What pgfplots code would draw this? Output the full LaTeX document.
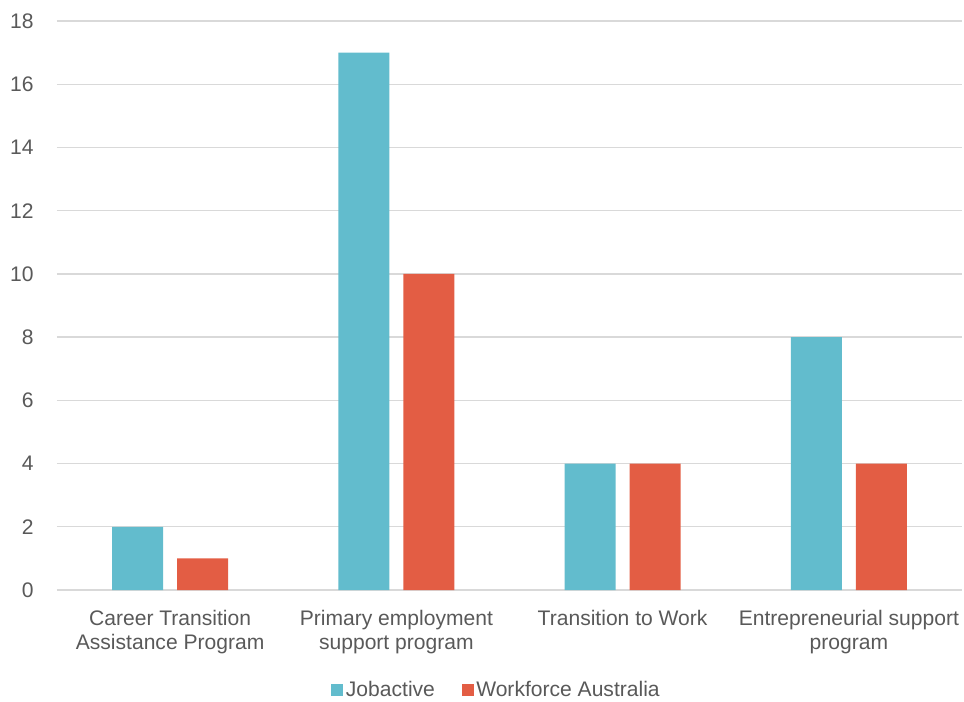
\documentclass[border=0pt]{standalone}
\usepackage{fontspec}
\setmainfont{Liberation Sans}
\usepackage{pgfplots}
\pgfplotsset{compat=1.18}
\definecolor{jobc}{HTML}{62BCCD}
\definecolor{wfc}{HTML}{E35D44}
\definecolor{txt}{HTML}{595959}
\definecolor{grd}{HTML}{D9D9D9}
\begin{document}
\begin{tikzpicture}[x=0.75pt,y=0.75pt]
\useasboundingbox (-57,-111) rectangle (907,590);
\begin{axis}[
  at={(0,0)}, anchor=south west,
  scale only axis,
  width=678.75pt, height=426.75pt,
  ybar=10.5pt, bar width=38.25pt,
  xmin=-0.5, xmax=3.5, ymin=0, ymax=18,
  ytick={0,2,...,18},
  xtick={0,1,2,3},
  xticklabels={Career Transition\\Assistance Program, Primary employment\\support program, Transition to Work, Entrepreneurial support\\program},
  xticklabel style={align=center, font=\fontsize{15.8}{17.5}\selectfont, text=txt, yshift=-12pt},
  yticklabel style={font=\fontsize{15.8}{17.5}\selectfont, text=txt, xshift=-14pt},
  /pgf/number format/assume math mode=true,
  axis line style={draw=none},
  axis x line*=bottom,
  x axis line style={draw=grd, line width=1pt},
  major tick length=0pt,
  ymajorgrids, grid style={draw=grd, line width=1pt},
  legend style={at={(0.486,-0.176)}, anchor=center, draw=none, legend columns=2,
    font=\fontsize{15.8}{17.5}\selectfont, text=txt,
    /tikz/every even column/.append style={column sep=18pt}},
  legend image code/.code={\fill[#1] (-2.5pt,-4.5pt) rectangle (6.5pt,4.5pt);},
]
\addplot[fill=jobc, draw=none] coordinates {(0,2) (1,17) (2,4) (3,8)};
\addplot[fill=wfc, draw=none] coordinates {(0,1) (1,10) (2,4) (3,4)};
\legend{Jobactive, Workforce Australia}
\end{axis}
\end{tikzpicture}
\end{document}
